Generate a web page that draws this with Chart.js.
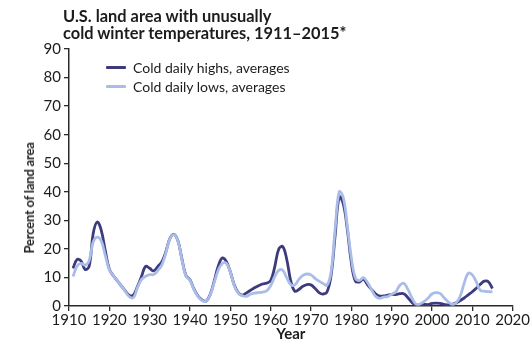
<!DOCTYPE html>
<html>
<head>
<meta charset="utf-8">
<script src="https://cdn.jsdelivr.net/npm/chart.js@4.4.1/dist/chart.umd.min.js"></script>
<style>
  html, body { margin: 0; padding: 0; background: #fff; }
  .wrap { position: relative; width: 530px; height: 339px; font-family: Lato, 'Open Sans', sans-serif; color: #1c1c1c; }
  canvas { position: absolute; left: 0; top: 0; }
  .title { position: absolute; left: 63px; top: 7px; font-size: 16.4px; font-weight: bold; line-height: 17px; }
  .legend { position: absolute; left: 106px; top: 58px; font-size: 14px; line-height: 19px; }
  .legend-item { display: flex; align-items: center; }
  .legend-swatch { width: 20px; height: 3px; margin-right: 7px; border-radius: 1px; }
  .y-title { position: absolute; left: 29px; top: 198px; transform: translate(-50%, -50%) rotate(-90deg); font-size: 13px; letter-spacing: -0.2px; font-weight: bold; white-space: nowrap; color: #222; }
</style>
</head>
<body>
<div class="wrap">
  <canvas id="chart" width="530" height="339"></canvas>
  <div class="title">U.S. land area with unusually<br>cold winter temperatures, 1911–2015*</div>
  <div class="legend">
    <div class="legend-item"><span class="legend-swatch" style="background:#3d3b7e"></span>Cold daily highs, averages</div>
    <div class="legend-item"><span class="legend-swatch" style="background:#a9bde8"></span>Cold daily lows, averages</div>
  </div>
  <div class="y-title">Percent of land area</div>
</div>
<script>
const firstYear = 1911

const coldHighs = [
  13.2, 16.3, 15.7, 12.8, 13.9, 25.4, 29.4, 26.5, 19.3, 12.9,
  10.6, 8.8, 7.0, 5.2, 3.7, 3.9, 6.9, 10.4, 13.9, 13.2,
  12.3, 13.8, 15.4, 18.9, 23.6, 25.1, 22.9, 16.5, 10.7, 9.2,
  5.9, 3.5, 2.1, 1.7, 4.0, 8.7, 13.9, 16.8, 15.6, 12.0,
  7.3, 4.6, 3.8, 4.6, 5.5, 6.4, 7.1, 7.7, 8.0, 8.9,
  13.6, 19.9, 20.8, 16.3, 8.7, 5.2, 5.8, 6.9, 7.5, 7.4,
  6.2, 4.7, 4.2, 5.0, 10.8, 24.8, 38.2, 35.8, 27.0, 15.3,
  8.8, 8.4, 9.4, 7.5, 5.8, 4.3, 3.5, 3.5, 3.8, 4.1,
  4.0, 4.3, 4.3, 3.0, 1.3, 0.3, 0.4, 0.6, 0.5, 0.9,
  1.0, 0.9, 0.6, 0.4, 0.6, 1.1, 1.9, 2.8, 3.9, 5.0,
  6.2, 7.6, 8.7, 8.5, 6.1
]

const coldLows = [
  10.3, 14.0, 14.9, 14.3, 15.9, 22.4, 24.1, 22.8, 17.7, 12.7,
  10.6, 8.8, 7.0, 5.0, 3.2, 3.0, 6.5, 9.3, 10.4, 11.0,
  11.0, 12.4, 14.3, 18.5, 23.5, 25.0, 22.8, 16.3, 10.5, 9.0,
  5.7, 3.3, 1.9, 1.6, 3.8, 8.2, 12.5, 14.9, 15.0, 12.0,
  7.0, 4.4, 3.6, 3.4, 4.1, 4.5, 4.7, 4.9, 5.3, 7.1,
  10.3, 12.5, 12.5, 9.9, 7.5, 7.4, 9.3, 10.7, 11.2, 10.9,
  9.7, 8.7, 7.9, 7.3, 12.0, 27.1, 40.0, 38.1, 28.2, 17.0,
  9.9, 8.9, 9.9, 8.3, 5.8, 3.4, 2.7, 3.1, 3.3, 4.1,
  4.9, 7.2, 8.0, 5.9, 3.0, 0.7, 0.7, 1.5, 2.7, 4.2,
  4.7, 4.4, 2.9, 1.5, 0.6, 1.1, 3.4, 8.0, 11.5, 10.9,
  8.5, 5.5, 5.2, 5.0, 5.0
]

const xTicks = [1910, 1920, 1930, 1940, 1950, 1960, 1970, 1980, 1990, 2000, 2010, 2020]
const yTicks = [0, 10, 20, 30, 40, 50, 60, 70, 80, 90]

const toPoints = (values) => values.map((v, i) => ({ x: firstYear + i, y: v }))

const axisColor = '#2a2a2a'
const tickFont = { family: 'Lato', size: 15 }

new Chart(document.getElementById('chart'), {
  type: 'line',
  data: {
    datasets: [
      {
        label: 'Cold daily lows, averages',
        data: toPoints(coldLows),
        borderColor: '#a9bde8',
        borderWidth: 2.8,
        pointRadius: 0,
        tension: 0.4,
      },
      {
        label: 'Cold daily highs, averages',
        data: toPoints(coldHighs),
        borderColor: '#3d3b7e',
        borderWidth: 2.8,
        pointRadius: 0,
        tension: 0.4,
      },
    ],
  },
  options: {
    responsive: false,
    animation: false,
    layout: { padding: { top: 49, right: 6, left: 0, bottom: 0 } },
    plugins: {
      legend: { display: false },
      tooltip: { enabled: false },
    },
    scales: {
      x: {
        type: 'linear',
        min: 1910,
        max: 2020,
        afterBuildTicks: (scale) => { scale.ticks = xTicks.map((v) => ({ value: v })) },
        afterFit: (scale) => { scale.height = 33 },
        ticks: { color: '#1c1c1c', font: tickFont, padding: 0, maxRotation: 0, autoSkip: false, callback: (v) => String(v) },
        grid: { drawOnChartArea: false, color: axisColor, tickLength: 5, lineWidth: 1.3 },
        border: { color: axisColor, width: 1.5 },
        title: {
          display: true,
          text: 'Year',
          color: '#1c1c1c',
          font: { family: 'Lato', size: 15, weight: 'bold', lineHeight: 1 },
          padding: { top: 0, bottom: -3 },
        },
      },
      y: {
        min: 0,
        max: 90,
        afterBuildTicks: (scale) => { scale.ticks = yTicks.map((v) => ({ value: v })) },
        afterFit: (scale) => { scale.width = 69 },
        ticks: { color: '#1c1c1c', font: tickFont, padding: 3 },
        grid: { drawOnChartArea: false, color: axisColor, tickLength: 5, lineWidth: 1.3 },
        border: { color: axisColor, width: 1.5 },
      },
    },
  },
})
</script>
</body>
</html>
